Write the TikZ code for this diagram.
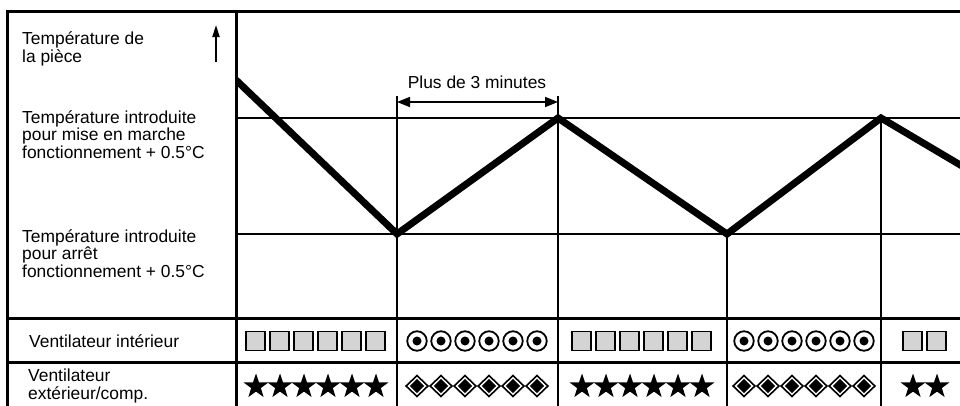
\documentclass[tikz,border=0pt]{standalone}
\usepackage{fontspec}
\setmainfont{Liberation Sans}
\usetikzlibrary{shapes.geometric,arrows.meta}
\definecolor{sqgray}{HTML}{D4D4D4}
\begin{document}
\begin{tikzpicture}[x=1pt,y=-1pt,
  frame/.style={line width=3pt},
  gridline/.style={line width=2.8pt},
  vline/.style={line width=2.4pt},
  tempcurve/.style={line width=7pt,line join=miter},
  lbl/.style={anchor=base west,inner sep=0pt,align=left,font=\fontsize{17.4}{17.5}\selectfont},
  sqsym/.style={draw=black,fill=sqgray,line width=1.6pt,minimum size=19.2pt,inner sep=0pt,rectangle},
  cirsym/.style={draw=black,fill=white,line width=1.8pt,circle,minimum size=19.5pt,inner sep=0pt},
  starsym/.style={star,star points=5,star point ratio=2.55,fill=black,minimum size=26pt,inner sep=0pt},
  diasym/.style={diamond,draw=black,fill=white,line width=1.6pt,minimum width=22.5pt,minimum height=21.5pt,inner sep=0pt},
  dimarrow/.style={line width=1.7pt,{Triangle[length=13pt,width=10pt]}-{Triangle[length=13pt,width=10pt]}},
  uparrow/.style={line width=1.7pt,-{Triangle[length=12pt,width=7pt]}}]
\useasboundingbox (0,0) rectangle (960,405);

% frame and table
\draw[frame] (7,406) -- (7,11) -- (961,11);
\draw[frame] (236,11) -- (236,406);
\draw[frame] (7,318) -- (961,318);
\draw[frame] (7,362) -- (961,362);
\draw[gridline] (236,118) -- (961,118);
\draw[gridline] (236,234) -- (961,234);

% curve points
\coordinate (p0) at (236,80);
\coordinate (p1) at (397,234);
\coordinate (p2) at (558,118);
\coordinate (p3) at (727,234);
\coordinate (p4) at (881,118);
\coordinate (p5) at (962,166);

% vertical markers
\coordinate (v1t) at (397,96);
\coordinate (v2t) at (558,96);
\coordinate (v1b) at (397,406);
\coordinate (v2b) at (558,406);
\coordinate (v3b) at (727,406);
\coordinate (v4b) at (881,406);
\draw[vline] (v1t) -- (v1b);
\draw[vline] (v2t) -- (v2b);
\draw[vline] (p3) -- (v3b);
\draw[vline] (p4) -- (v4b);

\begin{scope}
\clip (236,11) rectangle (960,318);
\draw[tempcurve] (p0) -- (p1) -- (p2) -- (p3) -- (p4) -- (p5);
\end{scope}

% dimension
\coordinate (d1) at (397,102);
\coordinate (d2) at (558,102);
\draw[dimarrow] (d1) -- (d2);
\node[anchor=base,inner sep=0pt,font=\fontsize{17.4}{17.5}\selectfont] (dimlbl) at (477,88) {Plus de 3 minutes};

% up arrow
\coordinate (ua) at (216,62);
\coordinate (ub) at (216,25);
\draw[uparrow] (ua) -- (ub);

% labels (base = last line)
\node[lbl] (l1) at (22,62) {Température de\\la pièce};
\node[lbl] (l2) at (22,158) {Température introduite\\pour mise en marche\\fonctionnement + 0.5°C};
\node[lbl] (l3) at (22,277) {Température introduite\\pour arrêt\\fonctionnement + 0.5°C};
\node[lbl] (l4) at (29,347) {Ventilateur intérieur};
\node[lbl] (l5) at (28,399) {Ventilateur\\extérieur/comp.};

% symbols row 1
\foreach \i in {0,...,5} {
  \node[sqsym] at (255.5+24*\i,341) {};
  \node[cirsym] at (417+24*\i,341) {};
  \fill (417+24*\i,341) circle (4.5pt);
  \node[sqsym] at (581.5+24*\i,341) {};
  \node[cirsym] at (744+24*\i,341) {};
  \fill (744+24*\i,341) circle (4.5pt);
}
\foreach \i in {0,1} {
  \node[sqsym] at (912.5+24*\i,341) {};
}
% symbols row 2
\foreach \i in {0,...,5} {
  \node[starsym] at (256+24*\i,386.5) {};
  \node[diasym] at (417+24*\i,386) {};
  \fill (417+24*\i,386-7.2) -- (417+24*\i+7.2,386) -- (417+24*\i,386+7.2) -- (417+24*\i-7.2,386) -- cycle;
  \node[starsym] at (582+24*\i,386.5) {};
  \node[diasym] at (744+24*\i,386) {};
  \fill (744+24*\i,386-7.2) -- (744+24*\i+7.2,386) -- (744+24*\i,386+7.2) -- (744+24*\i-7.2,386) -- cycle;
}
\foreach \i in {0,1} {
  \node[starsym] at (913+24*\i,386.5) {};
}
\end{tikzpicture}
\end{document}
